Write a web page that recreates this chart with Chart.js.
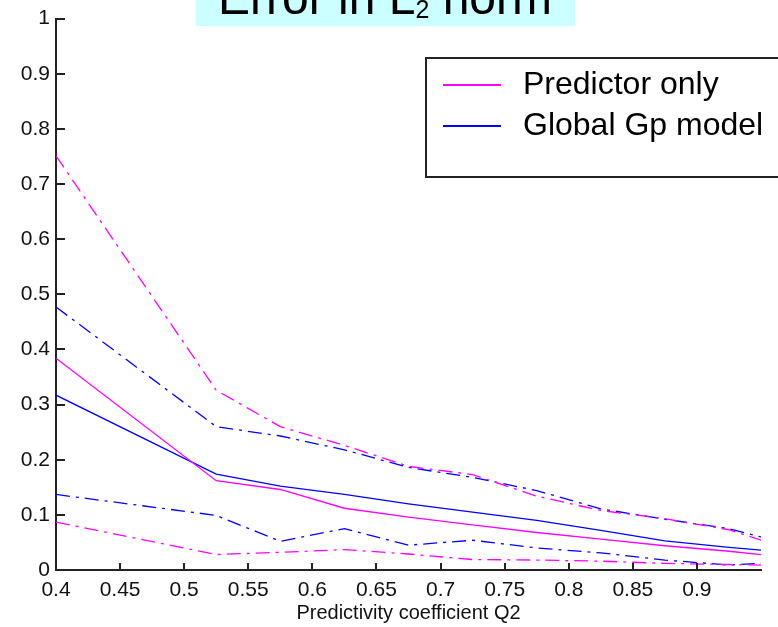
<!DOCTYPE html>
<html>
<head>
<meta charset="utf-8">
<title>Error in L2 norm</title>
<script src="https://cdn.jsdelivr.net/npm/chart.js@4.4.0/dist/chart.umd.min.js"></script>
<style>
  html, body { margin: 0; padding: 0; background: #fff; }
  #wrap { width: 778px; height: 627px; }
</style>
</head>
<body>
<div id="wrap"><canvas id="chart" width="778" height="627"></canvas></div>
<script>
// Predictivity coefficient Q2 at which the errors were computed
const q2 = [0.4, 0.525, 0.575, 0.625, 0.675, 0.725, 0.775, 0.825, 0.875, 0.925, 0.95];

// mean error, with upper / lower envelopes (dash-dot)
const predictorMean  = [0.384, 0.162, 0.146, 0.112, 0.096, 0.082, 0.068, 0.056, 0.044, 0.034, 0.028];
const predictorUpper = [0.751, 0.326, 0.260, 0.226, 0.188, 0.173, 0.134, 0.108, 0.093, 0.073, 0.054];
const predictorLower = [0.087, 0.028, 0.032, 0.037, 0.029, 0.019, 0.018, 0.016, 0.012, 0.010, 0.009];

const globalMean  = [0.317, 0.174, 0.152, 0.137, 0.120, 0.105, 0.090, 0.072, 0.053, 0.041, 0.036];
const globalUpper = [0.477, 0.260, 0.243, 0.218, 0.186, 0.168, 0.144, 0.111, 0.092, 0.075, 0.060];
const globalLower = [0.137, 0.099, 0.052, 0.075, 0.045, 0.054, 0.040, 0.031, 0.018, 0.009, 0.012];

const xTicks = [0.4, 0.45, 0.5, 0.55, 0.6, 0.65, 0.7, 0.75, 0.8, 0.85, 0.9];
const yTicks = [0, 0.1, 0.2, 0.3, 0.4, 0.5, 0.6, 0.7, 0.8, 0.9, 1];

const MAGENTA = '#ff00ff';
const BLUE = '#0000ff';
const AXIS = '#222222';
const FONT = '"Liberation Sans", Arial, sans-serif';
const DASHDOT = [14, 6, 3, 6];

function pts(ys) {
    return q2.map((x, i) => ({ x: x, y: ys[i] }));
}

function series(label, ys, color, dashed) {
    return {
        label: label,
        data: pts(ys),
        borderColor: color,
        borderWidth: 1.3,
        borderDash: dashed ? DASHDOT : [],
        pointRadius: 0,
        tension: 0,
        fill: false,
    };
}

// cyan title strip, partly cut off at the top
const titleStrip = {
    id: 'titleStrip',
    afterDraw(chart) {
        const ctx = chart.ctx;
        ctx.save();
        ctx.fillStyle = '#ccffff';
        ctx.fillRect(196, 0, 379, 26);
        ctx.fillStyle = '#000';
        ctx.textBaseline = 'alphabetic';
        ctx.font = '48px ' + FONT;
        let x = 218;
        ctx.fillText('Error in L', x, 14);
        x += ctx.measureText('Error in L').width;
        ctx.font = '25px ' + FONT;
        ctx.fillText('2', x, 18);
        x += ctx.measureText('2').width;
        ctx.font = '48px ' + FONT;
        ctx.fillText(' norm', x, 14);
        ctx.restore();
    }
};

// tick marks pointing into the plot
const innerTicks = {
    id: 'innerTicks',
    afterDraw(chart) {
        const { ctx, chartArea, scales } = chart;
        ctx.save();
        ctx.strokeStyle = AXIS;
        ctx.lineWidth = 2;
        ctx.beginPath();
        scales.x.ticks.forEach(t => {
            const px = Math.round(scales.x.getPixelForValue(t.value));
            ctx.moveTo(px, chartArea.bottom);
            ctx.lineTo(px, chartArea.bottom - 7);
        });
        scales.y.ticks.forEach(t => {
            const py = Math.round(scales.y.getPixelForValue(t.value));
            ctx.moveTo(chartArea.left, py);
            ctx.lineTo(chartArea.left + 9, py);
        });
        ctx.stroke();
        ctx.restore();
    }
};

// boxed legend for the two mean curves
const boxLegend = {
    id: 'boxLegend',
    afterDraw(chart) {
        const ctx = chart.ctx;
        ctx.save();
        ctx.fillStyle = '#fff';
        ctx.fillRect(426, 58, 370, 119);
        ctx.strokeStyle = AXIS;
        ctx.lineWidth = 2;
        ctx.strokeRect(426, 58, 370, 119);
        ctx.font = '32px ' + FONT;
        ctx.textBaseline = 'middle';
        const rows = [85, 126];
        chart.data.datasets.slice(0, 2).forEach((ds, i) => {
            ctx.strokeStyle = ds.borderColor;
            ctx.lineWidth = 2;
            ctx.beginPath();
            ctx.moveTo(443, rows[i]);
            ctx.lineTo(501, rows[i]);
            ctx.stroke();
            ctx.fillStyle = '#000';
            ctx.fillText(ds.label, 523, rows[i]);
        });
        ctx.restore();
    }
};

const ctx = document.getElementById('chart').getContext('2d');

new Chart(ctx, {
    type: 'line',
    data: {
        datasets: [
            series('Predictor only', predictorMean, MAGENTA, false),
            series('Global Gp model', globalMean, BLUE, false),
            series('Predictor only, upper', predictorUpper, MAGENTA, true),
            series('Predictor only, lower', predictorLower, MAGENTA, true),
            series('Global Gp model, upper', globalUpper, BLUE, true),
            series('Global Gp model, lower', globalLower, BLUE, true),
        ],
    },
    options: {
        responsive: false,
        devicePixelRatio: 1,
        animation: false,
        layout: { padding: { top: 15, right: 17, left: 0, bottom: 0 } },
        plugins: {
            legend: { display: false },
            tooltip: { enabled: false },
        },
        scales: {
            x: {
                type: 'linear',
                min: 0.4,
                max: 0.95,
                afterBuildTicks: scale => { scale.ticks = xTicks.map(v => ({ value: v })); },
                afterFit: scale => { scale.height = 57; },
                grid: { display: false, drawTicks: false },
                border: { display: true, color: AXIS, width: 2 },
                ticks: {
                    padding: 8,
                    color: '#111',
                    font: { family: FONT, size: 21 },
                    maxRotation: 0,
                    callback: v => String(+v.toFixed(2)),
                },
                title: {
                    display: true,
                    text: 'Predictivity coefficient Q2',
                    color: '#111',
                    font: { family: FONT, size: 20 },
                    padding: { top: 0, bottom: 2 },
                },
            },
            y: {
                type: 'linear',
                min: 0,
                max: 1,
                afterBuildTicks: scale => { scale.ticks = yTicks.map(v => ({ value: v })); },
                afterFit: scale => { scale.width = 56; },
                grid: { display: false, drawTicks: false },
                border: { display: true, color: AXIS, width: 2 },
                ticks: {
                    padding: 6,
                    color: '#111',
                    font: { family: FONT, size: 21 },
                    callback: v => String(+v.toFixed(2)),
                },
            },
        },
    },
    plugins: [titleStrip, innerTicks, boxLegend],
});
</script>
</body>
</html>
